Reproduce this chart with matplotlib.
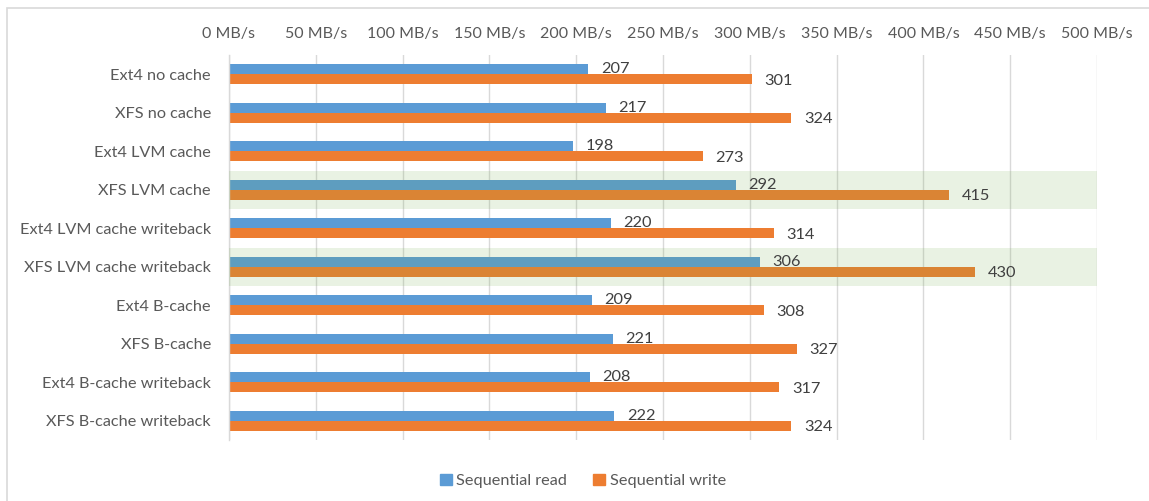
import numpy as np
import matplotlib.pyplot as plt
from matplotlib.patches import Rectangle, Patch

# Resultados dos testes de throughput sequencial (MB/s)
categories = [
    "Ext4 no cache",
    "XFS no cache",
    "Ext4 LVM cache",
    "XFS LVM cache",
    "Ext4 LVM cache writeback",
    "XFS LVM cache writeback",
    "Ext4 B-cache",
    "XFS B-cache",
    "Ext4 B-cache writeback",
    "XFS B-cache writeback",
]
seq_read = [207, 217, 198, 292, 220, 306, 209, 221, 208, 222]
seq_write = [301, 324, 273, 415, 314, 430, 308, 327, 317, 324]
highlight = ["XFS LVM cache", "XFS LVM cache writeback"]
x_ticks = [0, 50, 100, 150, 200, 250, 300, 350, 400, 450, 500]

blue = "#5B9BD5"
orange = "#ED7D31"
text_gray = "#595959"
grid_gray = "#D9D9D9"

plt.rcParams["font.family"] = ["Lato", "DejaVu Sans"]

W, H = 1149, 501
fig = plt.figure(figsize=(W / 100, H / 100), dpi=100)

# moldura clara do gráfico
fig.patches.append(
    Rectangle((7 / W, -0.1), 1.2, 1.1 - 8 / H, transform=fig.transFigure,
              fill=False, edgecolor=grid_gray, linewidth=1.2, zorder=0)
)

ax = fig.add_axes([229 / W, 1 - 440 / H, (1097 - 229) / W, (440 - 55) / H])

y = np.arange(len(categories))
bh = 0.26
ax.barh(y - bh / 2, seq_read, height=bh, color=blue, zorder=2,
        label="Sequential read")
ax.barh(y + bh / 2, seq_write, height=bh, color=orange, zorder=2,
        label="Sequential write")

# faixas de destaque
for i, c in enumerate(categories):
    if c in highlight:
        ax.axhspan(i - 0.5, i + 0.5, color="#70AD47", alpha=0.15, lw=0, zorder=3)

# rótulos dos valores
for i in range(len(categories)):
    ax.annotate(str(seq_read[i]), (seq_read[i], y[i] - bh / 2), xytext=(9, 0),
                textcoords="offset points", va="center", ha="left",
                fontsize=11.8, color="#404040", zorder=4)
    ax.annotate(str(seq_write[i]), (seq_write[i], y[i] + bh / 2), xytext=(9, -1),
                textcoords="offset points", va="center", ha="left",
                fontsize=11.8, color="#404040", zorder=4)

ax.set_xlim(0, 500)
ax.set_ylim(len(categories) - 0.5, -0.5)
ax.set_xticks(x_ticks)
ax.set_xticklabels([f"{t} MB/s" for t in x_ticks])
ax.xaxis.tick_top()
ax.set_yticks(y)
ax.set_yticklabels(categories)
ax.tick_params(axis="x", length=0, pad=10, labelsize=11.5, labelcolor=text_gray)
ax.tick_params(axis="y", length=0, pad=13, labelsize=11.7, labelcolor=text_gray)
ax.grid(axis="x", color=grid_gray, linewidth=1, zorder=1)
ax.set_axisbelow(True)
for s in ["top", "right", "bottom"]:
    ax.spines[s].set_visible(False)
ax.spines["left"].set_color(grid_gray)
ax.spines["left"].set_linewidth(1)

handles = [Patch(color=blue, label="Sequential read"),
           Patch(color=orange, label="Sequential write")]
leg = fig.legend(handles=handles, loc="center", bbox_to_anchor=(583 / W, 1 - 481 / H),
                 ncol=2, frameon=False, handlelength=0.7, handleheight=0.7,
                 handletextpad=0.3, columnspacing=1.6, fontsize=11.7)
for t in leg.get_texts():
    t.set_color(text_gray)

fig.savefig("out.png", dpi=100)
